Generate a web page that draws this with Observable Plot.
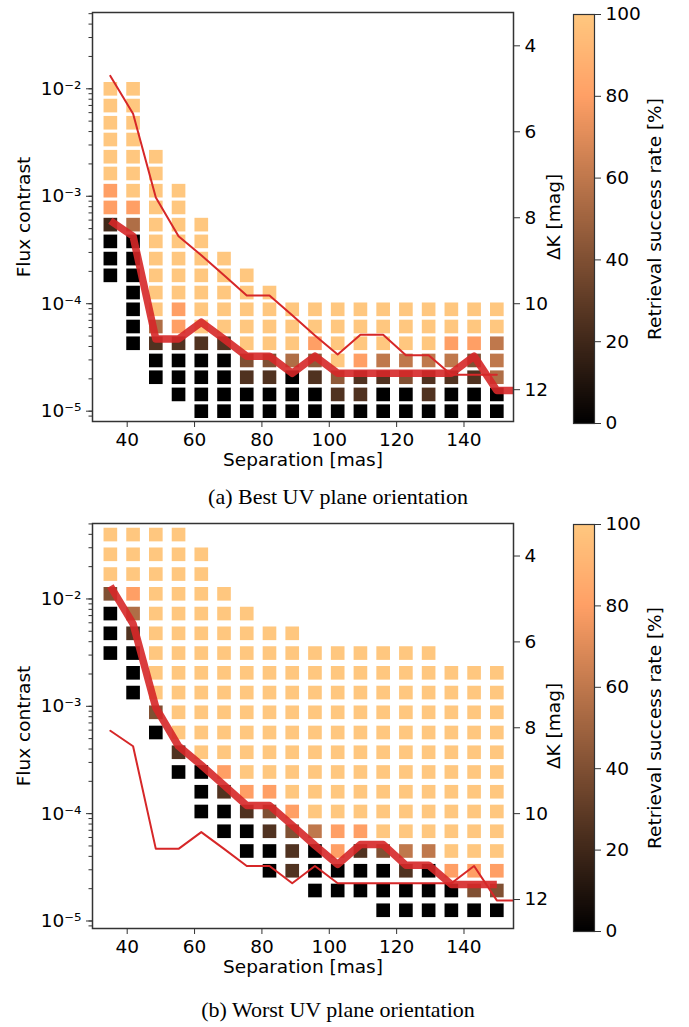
<!DOCTYPE html>
<html><head><meta charset="utf-8">
<script src="https://cdn.jsdelivr.net/npm/d3@7"></script>
<script src="https://cdn.jsdelivr.net/npm/@observablehq/plot@0.6"></script>
<style>
body{margin:0;background:#fff;}
#fig{position:relative;width:689px;height:1027px;overflow:hidden;background:#fff;}
#fig svg{position:absolute;overflow:visible;}
.cap{position:absolute;left:0;width:676px;text-align:center;font-family:"Liberation Serif";font-size:22px;line-height:22px;color:#000;}
.rot{position:absolute;white-space:nowrap;font-family:"DejaVu Sans";font-size:18.5px;line-height:20px;color:#000;transform:translate(-50%,-50%) rotate(-90deg);}
</style></head><body><div id="fig"></div>
<script>
// ---- data ----
const separations = [35, 41.75, 48.5, 55.25, 62, 68.75, 75.5, 82.25, 89, 95.75, 102.5, 109.25, 116, 122.75, 129.5, 136.25, 143, 149.75];
// ΔK [mag] of each grid row (top → bottom)
const bestRowsMag  = [5.00, 5.39, 5.79, 6.18, 6.58, 6.97, 7.37, 7.76, 8.16, 8.55, 8.95, 9.34, 9.74, 10.13, 10.53, 10.92, 11.32, 11.71, 12.11, 12.50];
const worstRowsMag = [3.50, 3.96, 4.42, 4.88, 5.34, 5.80, 6.26, 6.72, 7.18, 7.64, 8.11, 8.57, 9.03, 9.49, 9.95, 10.41, 10.87, 11.33, 11.79, 12.25];
// first grid row of each separation column, and success rates [%] going down
const bestTopRow = [0, 0, 4, 6, 8, 10, 11, 12, 13, 13, 13, 13, 13, 13, 13, 13, 13, 13];
const bestRates = [
  [100,100,100,100,100,100,80,80,20,0,0,0],
  [100,100,100,100,100,100,100,80,55,0,0,0,0,0,0,0],
  [100,100,100,100,100,100,100,100,100,100,55,25,0,0],
  [100,100,100,100,100,100,100,80,80,25,0,0,0],
  [100,100,100,100,100,100,100,25,0,0,0,0],
  [100,100,100,100,100,25,0,0,0,0],
  [100,100,100,100,100,40,25,0,0],
  [100,100,100,100,40,25,0,0],
  [100,100,100,55,0,0,0],
  [100,100,80,45,25,0,0],
  [100,100,100,100,45,25,0],
  [100,100,100,80,25,25,0],
  [100,100,100,60,25,0,0],
  [100,100,100,60,40,0,0],
  [100,100,100,60,25,25,0],
  [100,100,80,60,25,0,0],
  [100,100,80,40,25,0,0],
  [100,100,60,60,55,0,0]
];
const worstTopRow = [0, 0, 0, 0, 1, 3, 4, 5, 5, 6, 6, 6, 6, 6, 6, 7, 7, 7];
const worstRates = [
  [100,100,100,40,0,0,0],
  [100,100,100,80,55,25,0,0,0],
  [100,100,100,100,100,100,100,100,100,40,0],
  [100,100,100,100,100,100,100,100,100,100,100,25,0],
  [100,100,100,100,100,100,100,100,100,100,100,0,0,0],
  [100,100,100,100,100,100,100,100,100,80,25,0,0],
  [100,100,100,100,100,100,100,100,100,80,25,0,0],
  [100,100,100,100,100,100,100,100,80,40,25,0,0],
  [100,100,100,100,100,100,100,100,100,80,40,25,25],
  [100,100,100,100,100,100,100,100,100,60,0,0,0],
  [100,100,100,100,100,100,100,100,100,80,80,0,0],
  [100,100,100,100,100,100,100,100,100,80,25,0,0],
  [100,100,100,100,100,100,100,100,100,100,40,0,0,0],
  [100,100,100,100,100,100,100,100,100,100,60,25,0,0],
  [100,100,100,100,100,100,100,100,100,100,60,0,0,0],
  [100,100,100,100,100,100,100,100,100,100,80,0,0],
  [100,100,100,100,100,100,100,100,100,100,80,40,0],
  [100,100,100,100,100,100,100,100,100,100,80,40,0]
];
// detection-limit curves, ΔK [mag]
const bestLineSep = [35, 41.75, 48.5, 55.25, 62, 68.75, 75.5, 82.25, 89, 95.75, 102.5, 109.25, 116, 122.75, 129.5, 136.25, 143, 149.75, 156.5];
const bestLineMag = [8.07, 8.43, 10.82, 10.82, 10.43, 10.82, 11.22, 11.22, 11.62, 11.22, 11.62, 11.62, 11.62, 11.62, 11.62, 11.62, 11.22, 12.02, 12.02];
const worstLineSep = separations;
const worstLineMag = [4.70, 5.58, 7.53, 8.43, 8.87, 9.34, 9.81, 9.81, 10.27, 10.74, 11.18, 10.72, 10.72, 11.20, 11.20, 11.65, 11.65, 11.65];
// axes
const sepTicks = [40, 60, 80, 100, 120, 140];
const contrastTicks = [1e-5, 1e-4, 1e-3, 1e-2];
const contrastTickLabels = ["10⁻⁵", "10⁻⁴", "10⁻³", "10⁻²"];
const magTicks = [4, 6, 8, 10, 12];
const rateTicks = [0, 20, 40, 60, 80, 100];
const captions = ["(a) Best UV plane orientation", "(b) Worst UV plane orientation"];

// ---- helpers ----
const toContrast = m => Math.pow(10, -m / 2.5);
const copper = t => `rgb(${Math.round(255 * Math.min(1, 1.25 * t))},${Math.round(255 * 0.7812 * t)},${Math.round(255 * 0.4975 * t)})`;
const FONT = "DejaVu Sans";
const FS = 18.5;

function cellsFor(rowsMag, topRow, rates) {
  const out = [];
  rates.forEach((col, i) => col.forEach((r, j) => out.push({sep: separations[i], contrast: toContrast(rowsMag[topRow[i] + j]), rate: r})));
  return out;
}
function lineData(seps, mags) { return seps.map((s, i) => ({sep: s, contrast: toContrast(mags[i])})); }

function mainPlot(cells, thick, thin, yDomLog, marginTop, frameH) {
  const height = marginTop + frameH + 59;
  return Plot.plot({
    width: 570, height,
    marginLeft: 92, marginRight: 57, marginTop, marginBottom: 59,
    style: {fontFamily: FONT, fontSize: FS + "px", color: "#000", background: "transparent", overflow: "visible"},
    x: {domain: [29.7, 154.7]},
    y: {type: "log", domain: [Math.pow(10, yDomLog[0]), Math.pow(10, yDomLog[1])]},
    color: {type: "linear", domain: [0, 100], interpolate: copper},
    marks: [
      Plot.dot(cells, {x: "sep", y: "contrast", fill: "rate", symbol: "square", r: 7.7}),
      Plot.line(thick, {x: "sep", y: "contrast", stroke: "#d62728", strokeWidth: 7.5, strokeOpacity: 0.9, strokeLinejoin: "round", strokeLinecap: "butt", clip: true}),
      Plot.line(thin, {x: "sep", y: "contrast", stroke: "#d62728", strokeWidth: 2, strokeLinejoin: "round", clip: true}),
      Plot.frame({stroke: "#333", strokeWidth: 1.5}),
      Plot.axisX({ticks: sepTicks, tickSize: 6, tickPadding: 5, label: null, stroke: "#333"}),
      Plot.axisY({ticks: 40, tickSize: 3.5, tickFormat: () => "", label: null, stroke: "#333"}),
      Plot.axisY({ticks: contrastTicks, tickSize: 6, tickPadding: 5, tickFormat: d => contrastTickLabels[contrastTicks.indexOf(d)], label: null, stroke: "#333"}),
      // right ΔK axis: tick marks from the axis, labels as text marks on the same y scale
      Plot.axisY({anchor: "right", ticks: magTicks.map(toContrast), tickSize: 6, tickFormat: () => "", label: null, stroke: "#333"}),
      Plot.text(magTicks, {y: toContrast, frameAnchor: "right", dx: 11, textAnchor: "start", text: m => String(m), fontSize: FS}),
      Plot.text(["Separation [mas]"], {text: d => d, frameAnchor: "bottom", dy: 44, fontSize: FS})
    ]
  });
}

function colorbar(marginTop, barH) {
  const steps = d3.range(0, 100, 0.5);
  return Plot.plot({
    width: 119, height: marginTop + barH + 20,
    marginLeft: 3, marginRight: 95, marginTop, marginBottom: 20,
    style: {fontFamily: FONT, fontSize: FS + "px", color: "#000", background: "transparent", overflow: "visible"},
    x: {domain: [0, 1], axis: null},
    y: {domain: [0, 100], axis: null},
    color: {type: "linear", domain: [0, 100], interpolate: copper},
    marks: [
      Plot.rect(steps, {x1: 0, x2: 1, y1: d => d, y2: d => Math.min(100, d + 0.6), fill: d => d + 0.25, shapeRendering: "crispEdges"}),
      Plot.frame({stroke: "#333", strokeWidth: 1.2}),
      Plot.axisY({anchor: "right", ticks: rateTicks, tickSize: 6, tickPadding: 5, label: null, stroke: "#333"})
    ]
  });
}

const fig = document.getElementById("fig");
function place(el, left, top) { el.style.left = left + "px"; el.style.top = top + "px"; fig.appendChild(el); }
function rotLabel(text, cx, cy) {
  const d = document.createElement("div");
  d.className = "rot"; d.textContent = text;
  d.style.left = cx + "px"; d.style.top = cy + "px";
  fig.appendChild(d);
}

// panel (a): best orientation
place(mainPlot(cellsFor(bestRowsMag, bestTopRow, bestRates), lineData(bestLineSep, bestLineMag), lineData(worstLineSep, worstLineMag), [-5.096, -1.29], 12, 409), 0, 0);
place(colorbar(14, 409), 570, 0);
// panel (b): worst orientation
place(mainPlot(cellsFor(worstRowsMag, worstTopRow, worstRates), lineData(worstLineSep, worstLineMag), lineData(bestLineSep, bestLineMag), [-5.07, -1.297], 12, 405), 0, 511);
place(colorbar(13, 407), 570, 511);

// rotated axis titles
[[216.5, 218.5], [725.5, 727.5]].forEach(([cy, cbcy]) => {
  rotLabel("Flux contrast", 24, cy);
  rotLabel("ΔK [mag]", 554, cy);
  rotLabel("Retrieval success rate [%]", 655, cbcy);
});

captions.forEach((c, i) => {
  const d = document.createElement("div");
  d.className = "cap"; d.textContent = c;
  d.style.top = (i === 0 ? 486 : 999) + "px";
  fig.appendChild(d);
});
</script></body></html>
